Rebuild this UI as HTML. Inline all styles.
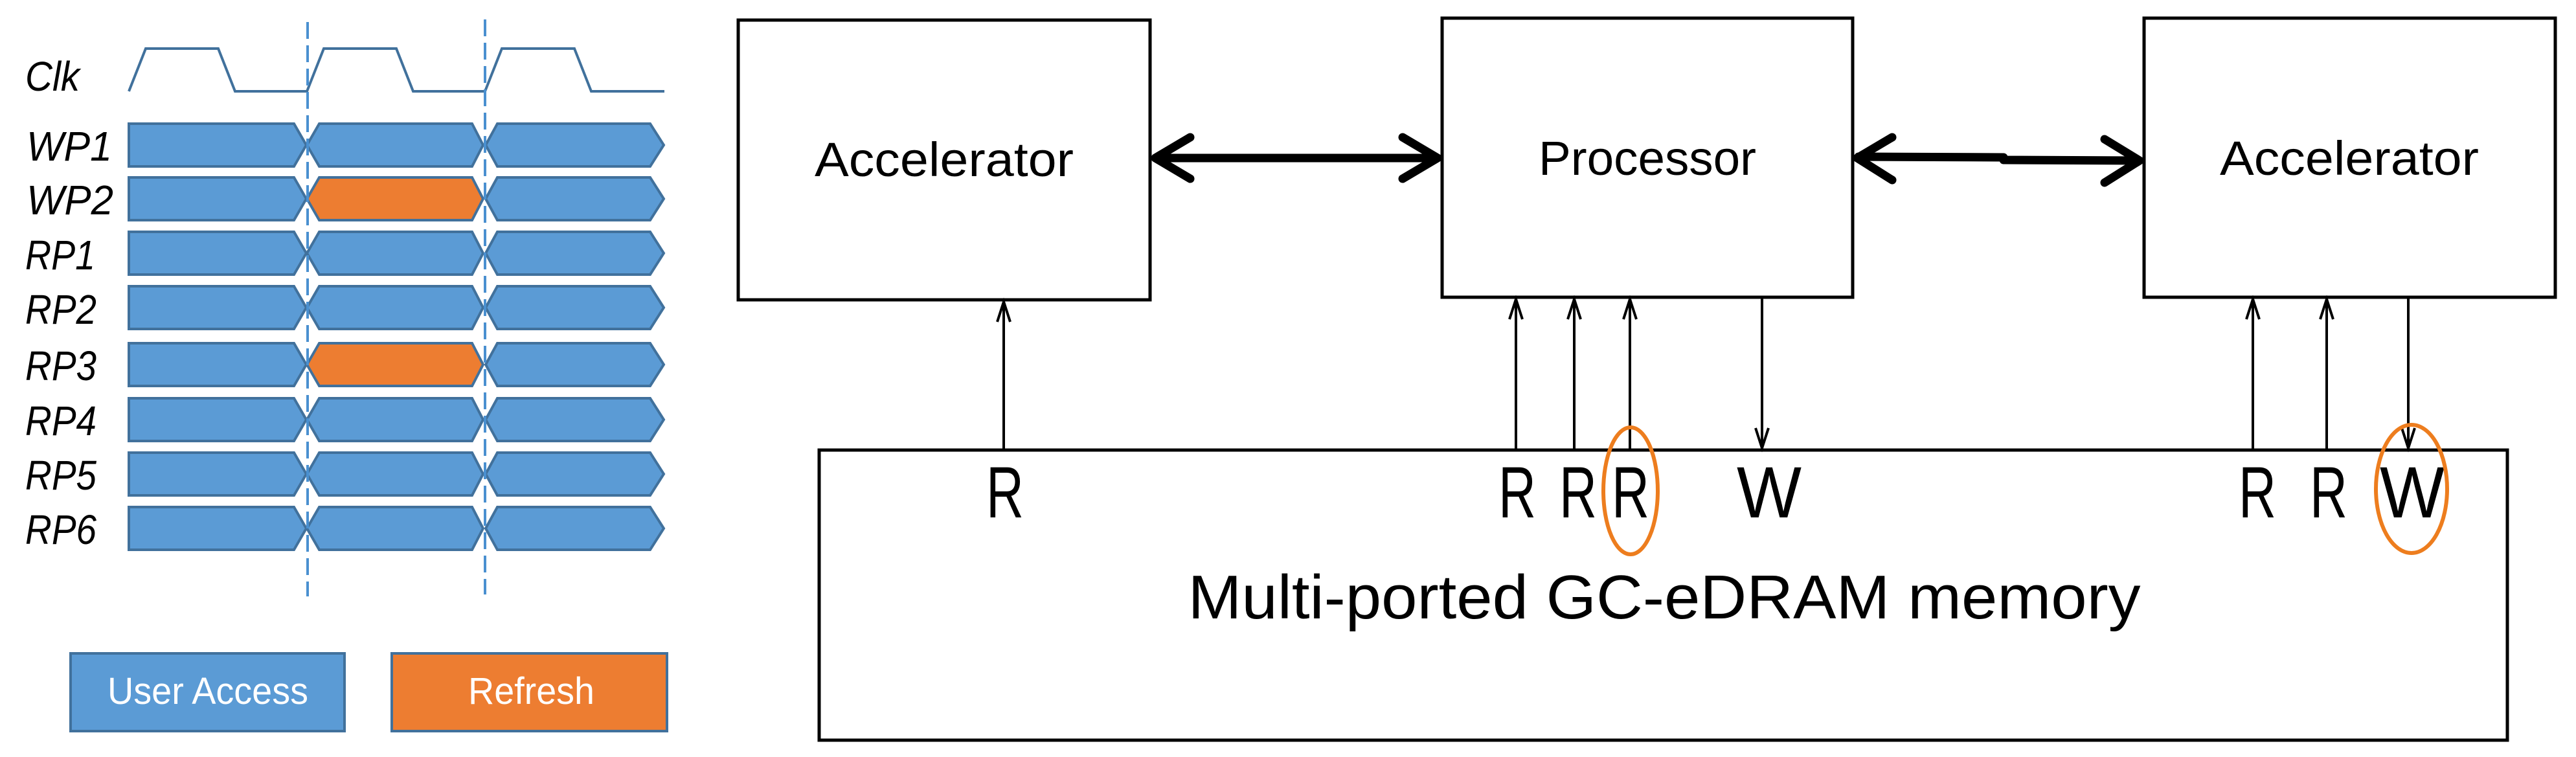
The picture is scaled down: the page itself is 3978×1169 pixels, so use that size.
<!DOCTYPE html>
<html><head><meta charset="utf-8"><style>html,body{margin:0;padding:0;background:#fff}svg{display:block}</style></head>
<body>
<svg width="3978" height="1169" viewBox="0 0 3978 1169" xmlns="http://www.w3.org/2000/svg" font-family="Liberation Sans, sans-serif">
<defs>
<g id="s1"><polygon points="199,0 454,0 473,33 454,66 199,66" fill="#5B9BD5" stroke="#41719C" stroke-width="4"/></g>
<g id="s2b"><polygon points="474,33 493,0 729,0 746,33 729,66 493,66" fill="#5B9BD5" stroke="#41719C" stroke-width="4"/></g>
<g id="s2o"><polygon points="474,33 493,0 729,0 746,33 729,66 493,66" fill="#ED7D31" stroke="#41719C" stroke-width="4"/></g>
<g id="s3"><polygon points="750,33 768,0 1004,0 1025,33 1004,66 768,66" fill="#5B9BD5" stroke="#41719C" stroke-width="4"/></g>
</defs>
<polyline points="199,141 225,75 337,75 363,141 474,141 500,75 612,75 638,141 749,141 775,75 887,75 913,141 1026,141" fill="none" stroke="#41719C" stroke-width="4"/>
<text x="39" y="140" font-size="64" font-style="italic" textLength="84" lengthAdjust="spacingAndGlyphs">Clk</text>
<g font-size="64" font-style="italic">
<g transform="translate(0,191)"><use href="#s1"/><use href="#s2b"/><use href="#s3"/></g>
<g transform="translate(0,274)"><use href="#s1"/><use href="#s2o"/><use href="#s3"/></g>
<g transform="translate(0,358)"><use href="#s1"/><use href="#s2b"/><use href="#s3"/></g>
<g transform="translate(0,442)"><use href="#s1"/><use href="#s2b"/><use href="#s3"/></g>
<g transform="translate(0,530)"><use href="#s1"/><use href="#s2o"/><use href="#s3"/></g>
<g transform="translate(0,615)"><use href="#s1"/><use href="#s2b"/><use href="#s3"/></g>
<g transform="translate(0,699)"><use href="#s1"/><use href="#s2b"/><use href="#s3"/></g>
<g transform="translate(0,783)"><use href="#s1"/><use href="#s2b"/><use href="#s3"/></g>
<text x="41" y="248" textLength="132" lengthAdjust="spacingAndGlyphs">WP1</text>
<text x="41" y="331" textLength="134" lengthAdjust="spacingAndGlyphs">WP2</text>
<text x="39" y="416" textLength="108" lengthAdjust="spacingAndGlyphs">RP1</text>
<text x="39" y="500" textLength="110" lengthAdjust="spacingAndGlyphs">RP2</text>
<text x="39" y="587" textLength="110" lengthAdjust="spacingAndGlyphs">RP3</text>
<text x="39" y="672" textLength="110" lengthAdjust="spacingAndGlyphs">RP4</text>
<text x="39" y="756" textLength="110" lengthAdjust="spacingAndGlyphs">RP5</text>
<text x="39" y="840" textLength="110" lengthAdjust="spacingAndGlyphs">RP6</text>
</g>
<line x1="475" y1="34" x2="475" y2="921" stroke="#4A90D0" stroke-width="4" stroke-dasharray="26,10"/>
<line x1="749" y1="30" x2="749" y2="918" stroke="#4A90D0" stroke-width="4" stroke-dasharray="26,10"/>
<rect x="109" y="1009" width="423" height="120" fill="#5B9BD5" stroke="#41719C" stroke-width="4"/>
<rect x="605" y="1009" width="425" height="120" fill="#ED7D31" stroke="#41719C" stroke-width="4"/>
<text x="166" y="1087" font-size="58" fill="#fff" textLength="310" lengthAdjust="spacingAndGlyphs">User Access</text>
<text x="723" y="1087" font-size="58" fill="#fff" textLength="195" lengthAdjust="spacingAndGlyphs">Refresh</text>

<g fill="none" stroke="#000" stroke-width="5">
<rect x="1140" y="31" width="636" height="432"/>
<rect x="2227" y="28" width="634" height="431"/>
<rect x="3311" y="28" width="635" height="431"/>
<rect x="1265" y="695" width="2607" height="448"/>
</g>
<g font-size="74" text-anchor="middle">
<text x="1458" y="272" textLength="400" lengthAdjust="spacingAndGlyphs">Accelerator</text>
<text x="2544" y="270" textLength="336" lengthAdjust="spacingAndGlyphs">Processor</text>
<text x="3628" y="270" textLength="400" lengthAdjust="spacingAndGlyphs">Accelerator</text>
</g>
<text x="2570" y="955" font-size="96" text-anchor="middle" textLength="1471" lengthAdjust="spacingAndGlyphs">Multi-ported GC-eDRAM memory</text>
<g fill="none" stroke="#000" stroke-width="13" stroke-linecap="round" stroke-linejoin="round">
<line x1="1785" y1="244" x2="2218" y2="244"/>
<polyline points="1838,212 1784,244 1838,276"/>
<polyline points="2166,212 2220,244 2166,276"/>
<polyline points="2870,242 3094,243 3094,247 3302,248"/>
<polyline points="2922,212 2868,244 2922,278"/>
<polyline points="3250,215 3304,248 3250,282"/>
</g>
<g fill="none" stroke="#000" stroke-width="4">
<line x1="1550" y1="695" x2="1550" y2="466"/><polyline points="1540,497 1550,466 1560,497"/>
<line x1="2341" y1="695" x2="2341" y2="462"/><polyline points="2331,493 2341,462 2351,493"/>
<line x1="2431" y1="695" x2="2431" y2="462"/><polyline points="2421,493 2431,462 2441,493"/>
<line x1="2517" y1="695" x2="2517" y2="462"/><polyline points="2507,493 2517,462 2527,493"/>
<line x1="2721" y1="459" x2="2721" y2="692"/><polyline points="2711,661 2721,692 2731,661"/>
<line x1="3479" y1="695" x2="3479" y2="462"/><polyline points="3469,493 3479,462 3489,493"/>
<line x1="3593" y1="695" x2="3593" y2="462"/><polyline points="3583,493 3593,462 3603,493"/>
<line x1="3719" y1="459" x2="3719" y2="692"/><polyline points="3709,661 3719,692 3729,661"/>
</g>
<g font-size="112" text-anchor="middle">
<text x="1552" y="799" textLength="58" lengthAdjust="spacingAndGlyphs">R</text>
<text x="2343" y="799" textLength="58" lengthAdjust="spacingAndGlyphs">R</text>
<text x="2437" y="799" textLength="58" lengthAdjust="spacingAndGlyphs">R</text>
<text x="2518" y="799" textLength="58" lengthAdjust="spacingAndGlyphs">R</text>
<text x="2732" y="799" textLength="100" lengthAdjust="spacingAndGlyphs">W</text>
<text x="3486" y="799" textLength="58" lengthAdjust="spacingAndGlyphs">R</text>
<text x="3596" y="799" textLength="58" lengthAdjust="spacingAndGlyphs">R</text>
<text x="3725" y="799" textLength="100" lengthAdjust="spacingAndGlyphs">W</text>
</g>
<ellipse cx="2518" cy="758" rx="42" ry="98" fill="none" stroke="#ED7D1E" stroke-width="6"/>
<ellipse cx="3724" cy="755" rx="55" ry="99" fill="none" stroke="#ED7D1E" stroke-width="6"/>
</svg>
</body></html>
